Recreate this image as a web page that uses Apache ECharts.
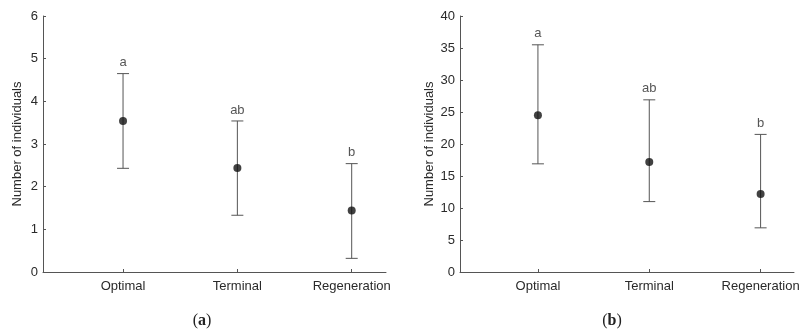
<!DOCTYPE html>
<html><head><meta charset="utf-8">
<script src="https://cdn.jsdelivr.net/npm/echarts@6/dist/echarts.min.js"></script>
<style>html,body{margin:0;padding:0;background:#fff}#c{width:808px;height:329px}</style>
</head><body><div id="c"></div>
<script>
const categories = ['Optimal', 'Terminal', 'Regeneration'];
const yTicksA = [0, 1, 2, 3, 4, 5, 6];
const yTicksB = [0, 5, 10, 15, 20, 25, 30, 35, 40];
const meanA = [3.54, 2.44, 1.44];
const upperA = [4.65, 3.54, 2.54];
const lowerA = [2.43, 1.33, 0.32];
const lettersA = ['a', 'ab', 'b'];
const meanB = [24.5, 17.2, 12.2];
const upperB = [35.5, 26.9, 21.5];
const lowerB = [16.9, 11.0, 6.9];
const lettersB = ['a', 'ab', 'b'];
const panelLabels = ['a', 'b'];

const chart = echarts.init(document.getElementById('c'));
const font = 'Liberation Sans, Arial, sans-serif';
const fs = 13;
const pos = categories.map((c, i) => i + 1);

function xAxis(idx) {
  return {
    type: 'value', gridIndex: idx, min: 0.3, max: 3.3,
    axisLine: { show: true, lineStyle: { color: '#555', width: 1 } },
    axisTick: { show: true, inside: true, length: 3, customValues: pos, lineStyle: { color: '#555' } },
    axisLabel: { customValues: pos, formatter: v => categories[Math.round(v) - 1] || '',
      color: '#2a2a2a', fontSize: fs, fontFamily: font, margin: 8 },
    splitLine: { show: false }
  };
}
function yAxis(idx, ticks, gap) {
  return {
    type: 'value', gridIndex: idx, min: ticks[0], max: ticks[ticks.length - 1],
    interval: ticks[1] - ticks[0],
    name: 'Number of individuals', nameLocation: 'middle', nameGap: gap,
    nameTextStyle: { color: '#2a2a2a', fontSize: fs, fontFamily: font },
    axisLine: { show: true, lineStyle: { color: '#555', width: 1 } },
    axisTick: { show: true, inside: true, length: 3, lineStyle: { color: '#555' } },
    axisLabel: { color: '#2a2a2a', fontSize: fs, fontFamily: font, margin: 5 },
    splitLine: { show: false }
  };
}
function errSeries(idx, upper, lower) {
  return {
    type: 'custom', xAxisIndex: idx, yAxisIndex: idx,
    data: pos.map((p, i) => [p, lower[i], upper[i]]),
    renderItem: (params, api) => {
      const x = api.value(0);
      const lo = api.coord([x, api.value(1)]);
      const hi = api.coord([x, api.value(2)]);
      const w = 6;
      const st = { stroke: '#555', lineWidth: 1 };
      return { type: 'group', children: [
        { type: 'line', shape: { x1: lo[0], y1: lo[1], x2: hi[0], y2: hi[1] }, style: st },
        { type: 'line', shape: { x1: hi[0] - w, y1: hi[1], x2: hi[0] + w, y2: hi[1] }, style: st },
        { type: 'line', shape: { x1: lo[0] - w, y1: lo[1], x2: lo[0] + w, y2: lo[1] }, style: st }
      ]};
    },
    silent: true, z: 2
  };
}
function meanSeries(idx, mean) {
  return {
    type: 'scatter', xAxisIndex: idx, yAxisIndex: idx,
    data: pos.map((p, i) => [p, mean[i]]),
    symbolSize: 8, itemStyle: { color: '#111' }, z: 3, silent: true
  };
}
function letterSeries(idx, upper, letters) {
  return {
    type: 'scatter', xAxisIndex: idx, yAxisIndex: idx,
    data: pos.map((p, i) => ({ value: [p, upper[i]], label: { formatter: letters[i] } })),
    symbolSize: 1, itemStyle: { color: 'rgba(0,0,0,0)' },
    label: { show: true, position: 'top', distance: 4, color: '#2a2a2a', fontSize: fs, fontFamily: font },
    silent: true
  };
}

chart.setOption({
  animation: false,
  backgroundColor: '#fff',
  grid: [
    { left: 43, right: 422, top: 16, bottom: 57 },
    { left: 460, right: 14, top: 16, bottom: 57 }
  ],
  xAxis: [xAxis(0), xAxis(1)],
  yAxis: [yAxis(0, yTicksA, 19), yAxis(1, yTicksB, 24)],
  graphic: panelLabels.map((l, i) => ({
    type: 'text', x: i === 0 ? 202 : 612, y: 321,
    style: { text: '(' + '{b|' + l + '})', fill: '#222', font: '16px "Liberation Serif", serif',
      align: 'center', verticalAlign: 'middle',
      rich: { b: { fontWeight: 'bold', fontSize: 16, fontFamily: 'Liberation Serif, serif', fill: '#222' } } }
  })),
  series: [
    errSeries(0, upperA, lowerA), meanSeries(0, meanA), letterSeries(0, upperA, lettersA),
    errSeries(1, upperB, lowerB), meanSeries(1, meanB), letterSeries(1, upperB, lettersB)
  ]
});
</script></body></html>
